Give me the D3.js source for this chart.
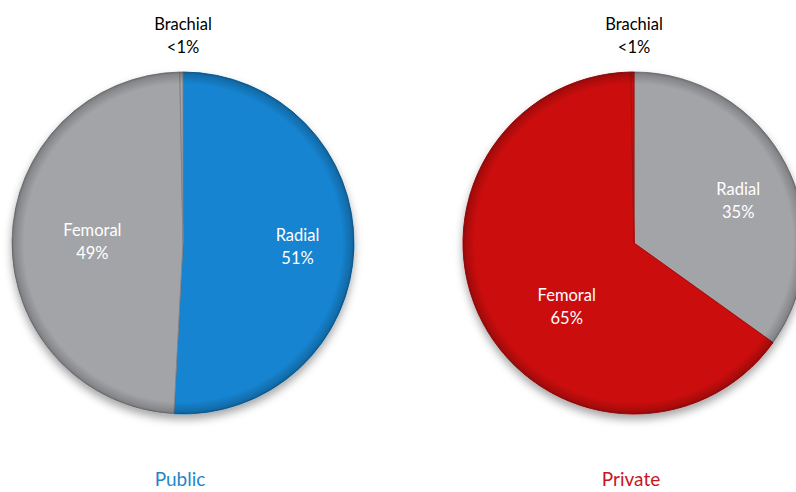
<!DOCTYPE html>
<html>
<head>
<meta charset="utf-8">
<script src="https://cdn.jsdelivr.net/npm/d3@7/dist/d3.min.js"></script>
<style>
  html, body { margin: 0; padding: 0; background: #fff; }
  svg { display: block; }
  text { font-family: Lato, "Open Sans", sans-serif; }
</style>
</head>
<body>
<svg id="chart" width="796" height="492"></svg>
<script>
// Access site shares, by sector
const categories = ["Radial", "Femoral", "Brachial"];
const publicValues = [51, 49, 0.3];
const privateValues = [35, 65, 0.3];
const valueLabels = {
  Public: ["51%", "49%", "<1%"],
  Private: ["35%", "65%", "<1%"]
};
const panelTitles = ["Public", "Private"];

const svg = d3.select("#chart");
const defs = svg.append("defs");

// soft shadow under each pie
const shadow = defs.append("filter").attr("id", "pieShadow")
  .attr("x", "-20%").attr("y", "-20%").attr("width", "140%").attr("height", "140%");
shadow.append("feDropShadow").attr("dx", 0).attr("dy", 5)
  .attr("stdDeviation", 4).attr("flood-color", "#000").attr("flood-opacity", 0.35);

// darkened rim to give a bevelled look
const rim = defs.append("radialGradient").attr("id", "rim");
rim.append("stop").attr("offset", "0.93").attr("stop-color", "#000").attr("stop-opacity", 0);
rim.append("stop").attr("offset", "0.985").attr("stop-color", "#000").attr("stop-opacity", 0.18);
rim.append("stop").attr("offset", "1").attr("stop-color", "#000").attr("stop-opacity", 0.3);

const radius = 171;
const panels = [
  { title: panelTitles[0], values: publicValues, cx: 183, cy: 243,
    colors: { Radial: "#1584d0", Femoral: "#a3a4a8", Brachial: "#a3a4a8" },
    titleColor: "#1f86c8",
    labelPos: { Radial: [0.67, 0], Femoral: [0.53, 0] } },
  { title: panelTitles[1], values: privateValues, cx: 634, cy: 243,
    colors: { Radial: "#a3a4a8", Femoral: "#cc0a0a", Brachial: "#cc0a0a" },
    titleColor: "#c8161d",
    labelPos: { Radial: [0.66, 0.08], Femoral: [0.54, -0.27] } }
];

const pie = d3.pie().sort(null).value(d => d.value);
const arc = d3.arc().innerRadius(0).outerRadius(radius);

panels.forEach(p => {
  const data = categories.map((c, i) => ({ name: c, value: p.values[i], label: valueLabels[p.title][i] }));
  const arcs = pie(data);
  const g = svg.append("g").attr("transform", `translate(${p.cx},${p.cy})`);

  const body = g.append("g").attr("filter", "url(#pieShadow)");
  body.selectAll("path.slice").data(arcs).join("path")
    .attr("class", "slice")
    .attr("d", arc)
    .attr("fill", d => p.colors[d.data.name])
    .attr("stroke", d => d3.color(p.colors[d.data.name]).darker(0.6))
    .attr("stroke-width", 1);

  // rim shading over the whole disc
  g.append("circle").attr("r", radius).attr("fill", "url(#rim)").attr("pointer-events", "none");

  // inner labels
  arcs.filter(d => d.data.name !== "Brachial").forEach(d => {
    const [rf, da] = p.labelPos[d.data.name];
    const a = (d.startAngle + d.endAngle) / 2 + da;
    const r = radius * rf;
    const x = r * Math.sin(a), y = -r * Math.cos(a);
    const t = g.append("text").attr("text-anchor", "middle").attr("fill", "#fff")
      .attr("font-size", 16.5);
    t.append("tspan").attr("x", x).attr("y", y - 5).text(d.data.name);
    t.append("tspan").attr("x", x).attr("y", y + 18).text(d.data.label);
  });

  // brachial label sits above the pie
  const b = arcs.find(d => d.data.name === "Brachial");
  const bt = g.append("text").attr("text-anchor", "middle").attr("fill", "#000")
    .attr("font-size", 16.5);
  bt.append("tspan").attr("x", 0).attr("y", -radius - 42).text(b.data.name);
  bt.append("tspan").attr("x", 0).attr("y", -radius - 19).text(b.data.label);

  // sector title
  g.append("text").attr("text-anchor", "middle").attr("x", -3).attr("y", 243)
    .attr("font-size", 19).attr("fill", p.titleColor).text(p.title);
});
</script>
</body>
</html>
